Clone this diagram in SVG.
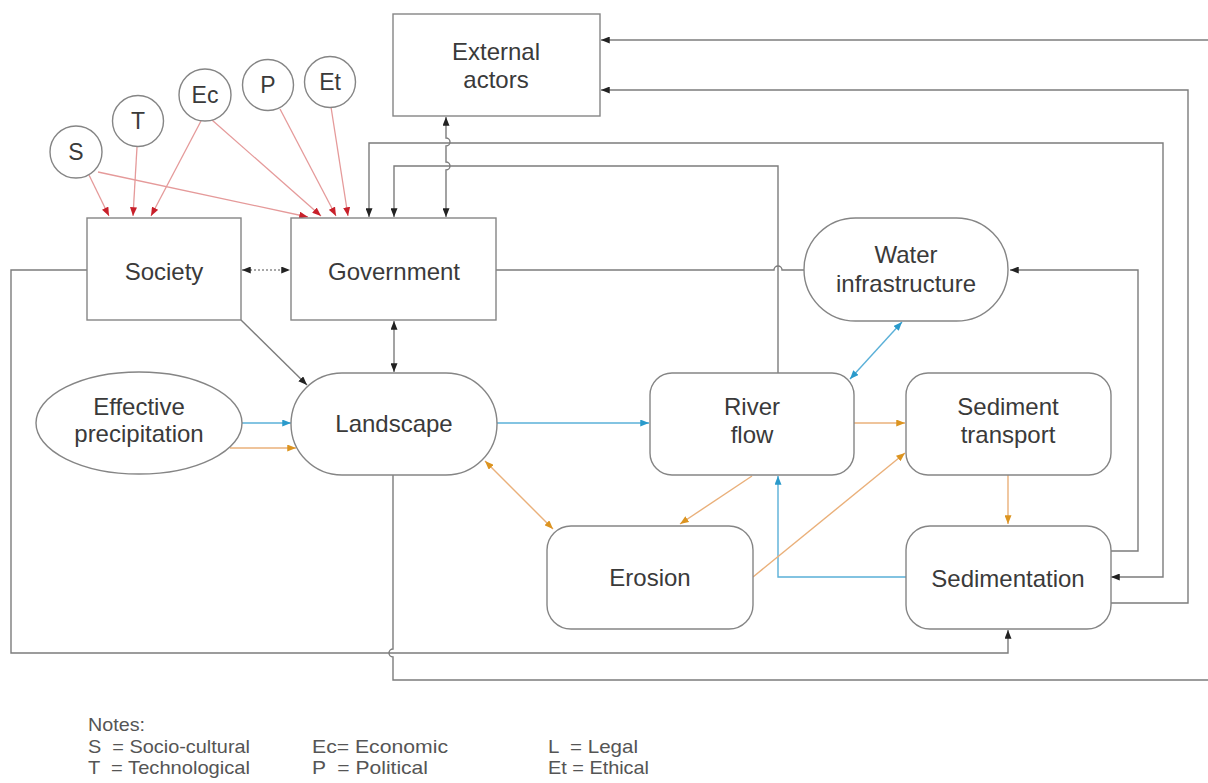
<svg xmlns="http://www.w3.org/2000/svg" width="1208" height="783" viewBox="0 0 1208 783">
  <style>
    .box { fill: #ffffff; stroke: #858585; stroke-width: 1.4; }
    .lbl { font-family: "Liberation Sans", Arial, sans-serif; font-size: 24px; fill: #3a3a3a; text-anchor: middle; }
    .clbl { font-family: "Liberation Sans", Arial, sans-serif; font-size: 23px; fill: #3a3a3a; text-anchor: middle; }
    .note { font-family: "Liberation Sans", Arial, sans-serif; font-size: 18.5px; fill: #555555; }
    .g { fill: none; stroke: #7c7c7c; stroke-width: 1.4; }
    .red { fill: none; stroke: #e59a9a; stroke-width: 1.3; }
    .blue { fill: none; stroke: #5ab0d8; stroke-width: 1.4; }
    .org { fill: none; stroke: #eab07a; stroke-width: 1.4; }
    .dot { fill: none; stroke: #8a8a8a; stroke-width: 1.4; stroke-dasharray: 2 2; }
  </style>
  <defs>
    <marker id="aK" viewBox="0 0 10 8" refX="10" refY="4" markerWidth="9" markerHeight="7" markerUnits="userSpaceOnUse" orient="auto-start-reverse">
      <path d="M0,0 L10,4 L0,8 z" fill="#222222"/>
    </marker>
    <marker id="aR" viewBox="0 0 10 8" refX="10" refY="4" markerWidth="9" markerHeight="7" markerUnits="userSpaceOnUse" orient="auto-start-reverse">
      <path d="M0,0 L10,4 L0,8 z" fill="#c8202a"/>
    </marker>
    <marker id="aB" viewBox="0 0 10 8" refX="10" refY="4" markerWidth="9" markerHeight="7" markerUnits="userSpaceOnUse" orient="auto-start-reverse">
      <path d="M0,0 L10,4 L0,8 z" fill="#2a9acb"/>
    </marker>
    <marker id="aO" viewBox="0 0 10 8" refX="10" refY="4" markerWidth="9" markerHeight="7" markerUnits="userSpaceOnUse" orient="auto-start-reverse">
      <path d="M0,0 L10,4 L0,8 z" fill="#dc9420"/>
    </marker>
  </defs>

  <rect width="1208" height="783" fill="#ffffff"/>

  <!-- connectors -->
  <g id="connectors">
    <!-- PESTLE factors into Society and Government -->
    <path class="red" d="M89,175 L109,216" marker-end="url(#aR)"/>
    <path class="red" d="M137,147 L133,216" marker-end="url(#aR)"/>
    <path class="red" d="M201,121 L151,216" marker-end="url(#aR)"/>
    <path class="red" d="M98,172 L308,217" marker-end="url(#aR)"/>
    <path class="red" d="M212,120 L321,216" marker-end="url(#aR)"/>
    <path class="red" d="M280,109 L336,216" marker-end="url(#aR)"/>
    <path class="red" d="M331,107 L348,216" marker-end="url(#aR)"/>

    <!-- External actors <-> Government, hopping over two horizontals -->
    <path class="g" d="M446,117 L446,138 A4,4 0 0 1 446,146 L446,162 A4,4 0 0 1 446,170 L446,217" marker-start="url(#aK)" marker-end="url(#aK)"/>

    <!-- Sedimentation <-> Government -->
    <path class="g" d="M1111,577 L1163,577 L1163,143 L369,143 L369,217" marker-start="url(#aK)" marker-end="url(#aK)"/>
    <!-- River flow -> Government -->
    <path class="g" d="M778,373 L778,166 L394,166 L394,217" marker-end="url(#aK)"/>
    <!-- Landscape -> External actors (outer loop) -->
    <path class="g" d="M393,475 L393,649 A4,4 0 0 0 393,657 L393,680 L1208,680"/>
    <path class="g" d="M1208,40 L601,40" marker-end="url(#aK)"/>
    <!-- Sedimentation -> External actors -->
    <path class="g" d="M1111,603 L1188,603 L1188,90 L601,90" marker-end="url(#aK)"/>
    <!-- Sedimentation -> Water infrastructure -->
    <path class="g" d="M1111,551 L1138,551 L1138,270 L1010,270" marker-end="url(#aK)"/>
    <!-- Government - Water infrastructure -->
    <path class="g" d="M496,270 L774,270 A4,4 0 0 1 782,270 L804,270"/>
    <!-- Society -> Sedimentation -->
    <path class="g" d="M87,270 L11,270 L11,653 L1008,653 L1008,630" marker-end="url(#aK)"/>
    <!-- Society <-> Government -->
    <path class="dot" d="M242,270 L290,270" marker-start="url(#aK)" marker-end="url(#aK)"/>
    <!-- Society -> Landscape -->
    <path class="g" d="M241,320 L307,385" marker-end="url(#aK)"/>
    <!-- Government <-> Landscape -->
    <path class="g" d="M394,321 L394,372" marker-start="url(#aK)" marker-end="url(#aK)"/>

    <!-- water flows -->
    <path class="blue" d="M242,423 L291,423" marker-end="url(#aB)"/>
    <path class="blue" d="M497,423 L649,423" marker-end="url(#aB)"/>
    <path class="blue" d="M902,322 L850,379" marker-start="url(#aB)" marker-end="url(#aB)"/>
    <path class="blue" d="M906,577 L778,577 L778,476" marker-end="url(#aB)"/>

    <!-- sediment flows -->
    <path class="org" d="M230,448 L296,448" marker-end="url(#aO)"/>
    <path class="org" d="M485,461 L553,529" marker-start="url(#aO)" marker-end="url(#aO)"/>
    <path class="org" d="M752,476 L680,524" marker-end="url(#aO)"/>
    <path class="org" d="M854,423 L905,423" marker-end="url(#aO)"/>
    <path class="org" d="M753,577 L905,453" marker-end="url(#aO)"/>
    <path class="org" d="M1008,475 L1008,524" marker-end="url(#aO)"/>
  </g>

  <!-- factor circles -->
  <g id="node-S"><circle class="box" cx="76" cy="152" r="26"/><text class="clbl" x="76" y="160">S</text></g>
  <g id="node-T"><circle class="box" cx="138" cy="121" r="25.5"/><text class="clbl" x="138" y="129">T</text></g>
  <g id="node-Ec"><circle class="box" cx="205" cy="95" r="26"/><text class="clbl" x="205" y="103">Ec</text></g>
  <g id="node-P"><circle class="box" cx="268" cy="85" r="25.5"/><text class="clbl" x="268" y="93">P</text></g>
  <g id="node-Et"><circle class="box" cx="330" cy="82" r="25.5"/><text class="clbl" x="330" y="90">Et</text></g>

  <!-- actors -->
  <g id="node-external">
    <rect class="box" x="393" y="14" width="207" height="102"/>
    <text class="lbl" x="496" y="60">External</text>
    <text class="lbl" x="496" y="88">actors</text>
  </g>
  <g id="node-society">
    <rect class="box" x="87" y="218" width="154" height="102"/>
    <text class="lbl" x="164" y="280">Society</text>
  </g>
  <g id="node-government">
    <rect class="box" x="291" y="218" width="205" height="102"/>
    <text class="lbl" x="394" y="280">Government</text>
  </g>
  <g id="node-water">
    <rect class="box" x="804" y="218" width="204" height="103" rx="51.5" ry="51.5"/>
    <text class="lbl" x="906" y="263">Water</text>
    <text class="lbl" x="906" y="292">infrastructure</text>
  </g>

  <!-- physical system -->
  <g id="node-precipitation">
    <ellipse class="box" cx="139" cy="423" rx="103" ry="51"/>
    <text class="lbl" x="139" y="415">Effective</text>
    <text class="lbl" x="139" y="442">precipitation</text>
  </g>
  <g id="node-landscape">
    <rect class="box" x="291" y="373" width="206" height="102" rx="51" ry="51"/>
    <text class="lbl" x="394" y="432">Landscape</text>
  </g>
  <g id="node-riverflow">
    <rect class="box" x="650" y="373" width="204" height="102" rx="22" ry="22"/>
    <text class="lbl" x="752" y="415">River</text>
    <text class="lbl" x="752" y="443">flow</text>
  </g>
  <g id="node-transport">
    <rect class="box" x="906" y="373" width="205" height="102" rx="22" ry="22"/>
    <text class="lbl" x="1008" y="415">Sediment</text>
    <text class="lbl" x="1008" y="443">transport</text>
  </g>
  <g id="node-erosion">
    <rect class="box" x="547" y="526" width="206" height="103" rx="24" ry="24"/>
    <text class="lbl" x="650" y="586">Erosion</text>
  </g>
  <g id="node-sedimentation">
    <rect class="box" x="906" y="526" width="205" height="103" rx="24" ry="24"/>
    <text class="lbl" x="1008" y="587">Sedimentation</text>
  </g>

  <!-- legend -->
  <g id="notes">
    <text class="note" x="88" y="731" textLength="57" lengthAdjust="spacingAndGlyphs">Notes:</text>
    <text class="note" x="88" y="752.5" xml:space="preserve" textLength="162" lengthAdjust="spacingAndGlyphs">S  = Socio-cultural</text>
    <text class="note" x="88" y="774" xml:space="preserve" textLength="162" lengthAdjust="spacingAndGlyphs">T  = Technological</text>
    <text class="note" x="312" y="752.5" textLength="136" lengthAdjust="spacingAndGlyphs">Ec= Economic</text>
    <text class="note" x="312" y="774" xml:space="preserve" textLength="116" lengthAdjust="spacingAndGlyphs">P  = Political</text>
    <text class="note" x="548" y="752.5" xml:space="preserve" textLength="90" lengthAdjust="spacingAndGlyphs">L  = Legal</text>
    <text class="note" x="548" y="774" textLength="101" lengthAdjust="spacingAndGlyphs">Et = Ethical</text>
  </g>
</svg>
